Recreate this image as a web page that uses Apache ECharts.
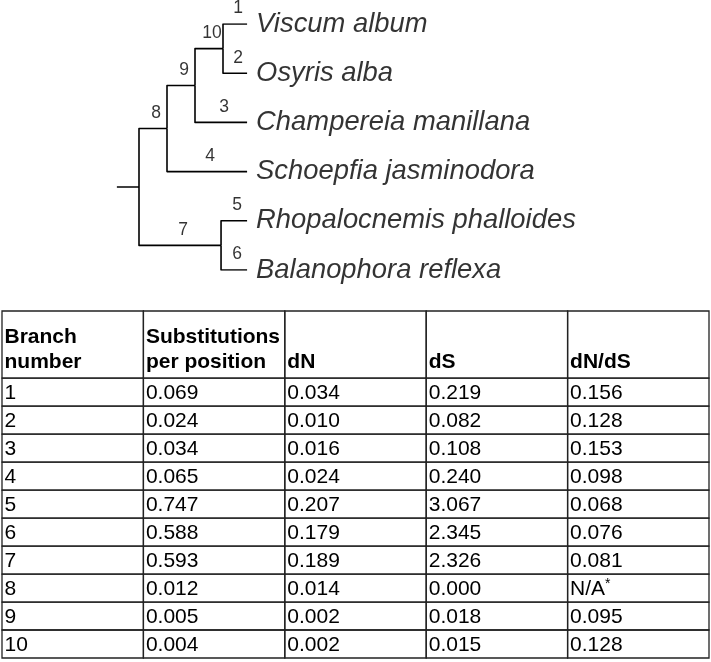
<!DOCTYPE html>
<html>
<head>
<meta charset="utf-8">
<script src="https://cdn.jsdelivr.net/npm/echarts@6/dist/echarts.min.js"></script>
<style>
html,body{margin:0;padding:0;background:#fff;}
#chart{width:711px;height:662px;}
</style>
</head>
<body>
<div id="chart"></div>
<script>
// ---- Tree data ----
const taxa = ['Viscum album', 'Osyris alba', 'Champereia manillana', 'Schoepfia jasminodora', 'Rhopalocnemis phalloides', 'Balanophora reflexa'];
const tipIds = ['t0', 't1', 't2', 't3', 't4', 't5'];
const internalIds = ['P0', 'P1', 'P2', 'P3', 'P4'];
const internalDepth = [1, 2, 3, 4, 3.93];
const rootStubDepth = 0.21;
const tipDepth = 4.86;
// branches 1..10 : parent -> child
const edgeFrom = ['P3', 'P3', 'P2', 'P1', 'P4', 'P4', 'P0', 'P0', 'P1', 'P2'];
const edgeTo   = ['t0', 't1', 't2', 't3', 't4', 't5', 'P4', 'P1', 'P2', 'P3'];
const branchNumbers = ['1', '2', '3', '4', '5', '6', '7', '8', '9', '10'];

// ---- Table data ----
const tableHeaders = ['Branch\nnumber', 'Substitutions\nper position', 'dN', 'dS', 'dN/dS'];
const branchCol = [1, 2, 3, 4, 5, 6, 7, 8, 9, 10];
const substitutions = [0.069, 0.024, 0.034, 0.065, 0.747, 0.588, 0.593, 0.012, 0.005, 0.004];
const dN = [0.034, 0.010, 0.016, 0.024, 0.207, 0.179, 0.189, 0.014, 0.002, 0.002];
const dS = [0.219, 0.082, 0.108, 0.240, 3.067, 2.345, 2.326, 0.000, 0.018, 0.015];
const dNdS = [0.156, 0.128, 0.153, 0.098, 0.068, 0.076, 0.081, null, 0.095, 0.128];

// ---- build tree geometry (in axis units) ----
const pos = {};
tipIds.forEach((id, i) => { pos[id] = { x: tipDepth, y: i }; });
internalIds.forEach((id, i) => { pos[id] = { x: internalDepth[i], y: null }; });
function yOf(id) {
  if (pos[id].y !== null) return pos[id].y;
  const kids = edgeTo.filter((c, i) => edgeFrom[i] === id);
  const ys = kids.map(yOf);
  pos[id].y = (Math.min(...ys) + Math.max(...ys)) / 2;
  return pos[id].y;
}
internalIds.forEach(yOf);

const lineData = edgeFrom.map((p, i) => {
  const a = pos[p], b = pos[edgeTo[i]];
  return { coords: [[a.x, a.y], [a.x, b.y], [b.x, b.y]] };
});
lineData.push({ coords: [[rootStubDepth, pos.P0.y], [pos.P0.x, pos.P0.y]] });

const branchLabelData = edgeFrom.map((p, i) => {
  const a = pos[p], b = pos[edgeTo[i]];
  return { value: [(a.x + b.x) / 2, b.y], name: branchNumbers[i] };
});
const taxaData = taxa.map((t, i) => ({ value: [pos[tipIds[i]].x, pos[tipIds[i]].y], name: t }));

// ---- table cells ----
const headerUnits = 2.4;
const cellData = [];
for (let r = 0; r <= branchCol.length; r++) {
  for (let c = 0; c < tableHeaders.length; c++) cellData.push([c, r]);
}
const columns = [branchCol, substitutions, dN, dS, dNdS];
const FONT = '"Liberation Sans", Arial, Helvetica, sans-serif';

function cellText(c, r) {
  const v = columns[c][r - 1];
  if (c === 0) return String(v);
  if (v === null) return null;
  return v.toFixed(3);
}

function renderCell(params, api) {
  const c = api.value(0), r = api.value(1);
  const top = r === 0 ? 0 : headerUnits + r - 1;
  const bottom = r === 0 ? headerUnits : headerUnits + r;
  const p1 = api.coord([c, top]);
  const p2 = api.coord([c + 1, bottom]);
  const children = [{
    type: 'rect',
    shape: { x: p1[0], y: p1[1], width: p2[0] - p1[0], height: p2[1] - p1[1] },
    style: { fill: 'none', stroke: '#222', lineWidth: 1.3 }
  }];
  if (r === 0) {
    children.push({
      type: 'text',
      style: {
        text: tableHeaders[c], x: p1[0] + 2.5, y: p2[1] - 3,
        align: 'left', verticalAlign: 'bottom',
        fontSize: 21, fontWeight: 'bold', fontFamily: FONT, lineHeight: 25, fill: '#000'
      }
    });
  } else {
    const t = cellText(c, r);
    if (t === null) {
      children.push({
        type: 'text',
        style: {
          text: '{a|N/A}{s|*}', x: p1[0] + 2.5, y: (p1[1] + p2[1]) / 2 + 1,
          align: 'left', verticalAlign: 'middle',
          rich: {
            a: { fontSize: 21, fontFamily: FONT, fill: '#000', lineHeight: 24 },
            s: { fontSize: 14, fontFamily: FONT, fill: '#000', verticalAlign: 'top', lineHeight: 10 }
          }
        }
      });
    } else {
      children.push({
        type: 'text',
        style: {
          text: t, x: p1[0] + 2.5, y: (p1[1] + p2[1]) / 2 + 1,
          align: 'left', verticalAlign: 'middle',
          fontSize: 21, fontFamily: FONT, fill: '#000'
        }
      });
    }
  }
  return { type: 'group', children: children };
}

const chart = echarts.init(document.getElementById('chart'), null, { renderer: 'canvas' });
chart.setOption({
  animation: false,
  backgroundColor: '#fff',
  grid: [
    { left: 111, top: 24, width: 140, height: 246 },
    { left: 2, top: 311, width: 707, height: 347 }
  ],
  xAxis: [
    { type: 'value', gridIndex: 0, min: 0, max: 5, show: false },
    { type: 'value', gridIndex: 1, min: 0, max: 5, show: false }
  ],
  yAxis: [
    { type: 'value', gridIndex: 0, min: 0, max: 5, inverse: true, show: false },
    { type: 'value', gridIndex: 1, min: 0, max: headerUnits + branchCol.length, inverse: true, show: false }
  ],
  series: [
    {
      type: 'lines', coordinateSystem: 'cartesian2d', xAxisIndex: 0, yAxisIndex: 0,
      polyline: true, silent: true,
      lineStyle: { color: '#000', width: 1.6, opacity: 1, join: 'round' },
      data: lineData
    },
    {
      type: 'scatter', xAxisIndex: 0, yAxisIndex: 0, symbolSize: 0, silent: true,
      label: {
        show: true, position: 'inside', offset: [3, -15.5], formatter: p => p.name,
        fontSize: 17.5, fontFamily: FONT, color: '#000'
      },
      data: branchLabelData
    },
    {
      type: 'scatter', xAxisIndex: 0, yAxisIndex: 0, symbolSize: 0, silent: true,
      label: {
        show: true, position: 'right', distance: 9, formatter: p => p.name,
        fontSize: 27.4, fontStyle: 'italic', fontFamily: FONT, color: '#000'
      },
      data: taxaData
    },
    {
      type: 'custom', xAxisIndex: 1, yAxisIndex: 1, silent: true,
      renderItem: renderCell,
      data: cellData
    }
  ]
});
</script>
</body>
</html>
